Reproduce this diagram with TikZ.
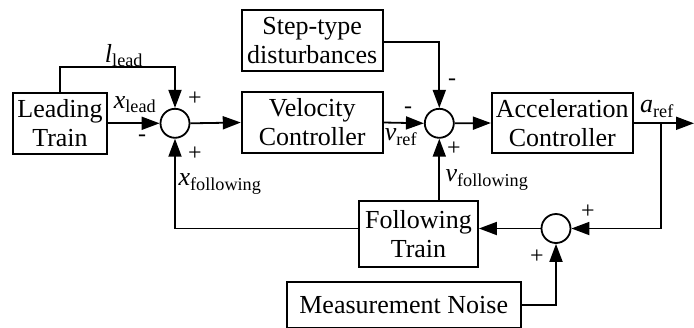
\documentclass[tikz,border=0pt]{standalone}
\usepackage{fontspec}
\setmainfont{Liberation Serif}
\usetikzlibrary{arrows.meta}
\newcommand{\sig}[2]{\textit{#1}\textsubscript{#2}}
\begin{document}
\begin{tikzpicture}[x=1pt,y=-1pt,line width=1.8pt,>={Triangle[length=18pt,width=13pt]}]
   \tikzstyle{blk}=[draw, align=center, inner sep=0pt, font=\fontsize{26}{29}\selectfont]
   \tikzstyle{sm}=[circle, draw, fill=white, minimum size=29pt, inner sep=0pt]
   \tikzstyle{lbl}=[inner sep=0pt, font=\fontsize{26}{29}\selectfont]
   \tikzstyle{sgn}=[inner sep=0pt, font=\fontsize{24}{26}\selectfont]
   \useasboundingbox (0,0) rectangle (694,327);
%%nodes
\node (lt) at (60,123.3) [blk, minimum width=94pt, minimum height=61pt] {Leading\\Train};
\node (vc) at (312.2,122.5) [blk, minimum width=141pt, minimum height=61pt] {Velocity\\Controller};
\node (sd) at (312.2,40.5) [blk, minimum width=141pt, minimum height=61pt] {Step-type\\disturbances};
\node (ac) at (562.3,123) [blk, minimum width=141pt, minimum height=60pt] {Acceleration\\Controller};
\node (ft) at (418.5,233.7) [blk, minimum width=119pt, minimum height=66pt] {Following\\Train};
\node (mn) at (403.7,305.3) [blk, minimum width=234pt, minimum height=46pt] {Measurement Noise};
\node (s1) at (175,123.3) [sm] {};
\node (s2) at (439.3,123.3) [sm] {};
\node (s3) at (556,228.5) [sm] {};
\coordinate (lk) at (60,67.3);
\coordinate (br) at (660.7,123.3);
\coordinate (out) at (694,123.3);
%% connectors
\draw[->] (lt.north) -- (lk) -| (s1.north);
\draw[->] (lt.east) -- (s1.west);
\draw[->] (s1.east) -- (vc.west);
\draw[->] (vc.east) -- (s2.west);
\draw[->] (sd.east |- 0,41.7) -| (s2.north);
\draw[->] (s2.east) -- (ac.west);
\draw[->] (ac.east |- out) -- (out);
\draw[->] (br) |- (s3.east);
\draw[->] (mn.east) -| (s3.south);
\draw[->] (s3.west) -- (s3.west -| ft.east);
\draw[->] (ft.west |- s3.west) -| (s1.south);
\draw[->] (s2.south |- ft.north) -- (s2.south);
%% labels
\node (llead) at (124,56) [lbl] {\sig{l}{lead}};
\node (xlead) at (135,105) [lbl] {\sig{x}{lead}};
\node (xfol) at (220,184) [lbl] {\sig{x}{following}};
\node (vref) at (401,137) [lbl] {\sig{v}{ref}};
\node (vfol) at (487,180) [lbl] {\sig{v}{following}};
\node (aref) at (657,109) [lbl] {\sig{a}{ref}};
\node (p1) at (195,99) [sgn] {+};
\node (p2) at (195,154) [sgn] {+};
\node (m1) at (142,138) [sgn] {-};
\node (m2) at (408,110) [sgn] {-};
\node (m3) at (452,82) [sgn] {-};
\node (p3) at (454,149) [sgn] {+};
\node (p4) at (588,212) [sgn] {+};
\node (p5) at (537,257) [sgn] {+};
    \end{tikzpicture}
\end{document}
